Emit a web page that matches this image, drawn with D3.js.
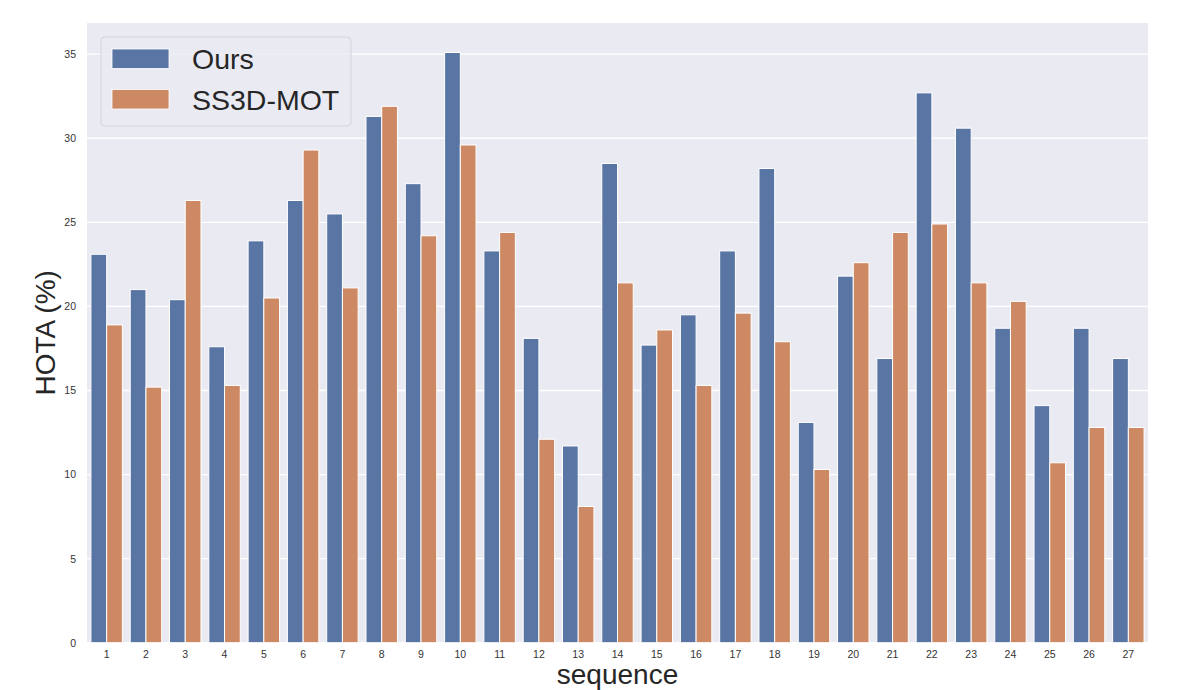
<!DOCTYPE html>
<html>
<head>
<meta charset="utf-8">
<script src="https://cdn.jsdelivr.net/npm/d3@7"></script>
<style>
  html, body { margin: 0; padding: 0; background: #ffffff; }
  svg { display: block; font-family: "Liberation Sans", Arial, sans-serif; }
</style>
</head>
<body>
<svg id="chart" width="1196" height="690"></svg>
<script>
const sequences = ["1","2","3","4","5","6","7","8","9","10","11","12","13","14","15","16","17","18","19","20","21","22","23","24","25","26","27"];
const seriesNames = ["Ours", "SS3D-MOT"];
const oursValues = [23.1, 21.0, 20.4, 17.6, 23.9, 26.3, 25.5, 31.3, 27.3, 35.1, 23.3, 18.1, 11.7, 28.5, 17.7, 19.5, 23.3, 28.2, 13.1, 21.8, 16.9, 32.7, 30.6, 18.7, 14.1, 18.7, 16.9];
const ss3dValues = [18.9, 15.2, 26.3, 15.3, 20.5, 29.3, 21.1, 31.9, 24.2, 29.6, 24.4, 12.1, 8.1, 21.4, 18.6, 15.3, 19.6, 17.9, 10.3, 22.6, 24.4, 24.9, 21.4, 20.3, 10.7, 12.8, 12.8];
const yTicks = [0, 5, 10, 15, 20, 25, 30, 35];
const colors = ["#5975A4", "#CC8963"];

const svg = d3.select("#chart");
const plotLeft = 87, plotRight = 1148, plotTop = 23, plotBottom = 642.7;

const allValues = [oursValues, ss3dValues];
const yMax = d3.max(oursValues.concat(ss3dValues)) * 1.05;

const x = d3.scaleBand().domain(sequences).range([plotLeft, plotRight]).paddingInner(0.2).paddingOuter(0.1);
const xSub = d3.scaleBand().domain(seriesNames).range([0, x.bandwidth()]);
const y = d3.scaleLinear().domain([0, yMax]).range([plotBottom, plotTop]);

// background
svg.append("rect").attr("x", plotLeft).attr("y", plotTop).attr("width", plotRight - plotLeft).attr("height", plotBottom - plotTop).attr("fill", "#EAEAF2");

// gridlines
svg.append("g").selectAll("line").data(yTicks).join("line")
  .attr("x1", plotLeft).attr("x2", plotRight)
  .attr("y1", d => y(d)).attr("y2", d => y(d))
  .attr("stroke", "#ffffff").attr("stroke-width", 1.3);

// bars
const rows = sequences.map((s, i) => ({ seq: s, vals: seriesNames.map((n, k) => ({ name: n, k: k, v: allValues[k][i] })) }));
const groups = svg.append("g").selectAll("g").data(rows).join("g")
  .attr("transform", d => `translate(${x(d.seq)},0)`);
groups.selectAll("rect").data(d => d.vals).join("rect")
  .attr("x", d => xSub(d.name))
  .attr("width", xSub.bandwidth())
  .attr("y", d => y(d.v))
  .attr("height", d => y(0) - y(d.v))
  .attr("fill", d => colors[d.k])
  .attr("stroke", "#ffffff").attr("stroke-width", 1);

// y axis
const yAxis = svg.append("g").attr("transform", `translate(${plotLeft},0)`)
  .call(d3.axisLeft(y).tickValues(yTicks).tickSize(0).tickPadding(11).tickFormat(d3.format("d")));
yAxis.select(".domain").remove();
yAxis.selectAll("text").attr("font-size", "10.5px").attr("fill", "#333333").attr("font-family", "Liberation Sans, Arial, sans-serif");

// x axis
const xAxis = svg.append("g").attr("transform", `translate(0,${plotBottom})`)
  .call(d3.axisBottom(x).tickSize(0).tickPadding(8));
xAxis.select(".domain").remove();
xAxis.selectAll("text").attr("font-size", "10.5px").attr("fill", "#333333").attr("font-family", "Liberation Sans, Arial, sans-serif");

// axis labels
svg.append("text").attr("transform", `translate(55,${(plotTop + plotBottom) / 2}) rotate(-90)`)
  .attr("text-anchor", "middle").attr("font-size", "28px").attr("fill", "#262626").text("HOTA (%)");
svg.append("text").attr("x", (plotLeft + plotRight) / 2).attr("y", 684)
  .attr("text-anchor", "middle").attr("font-size", "28px").attr("fill", "#262626").text("sequence");

// legend
const legend = svg.append("g");
legend.append("rect").attr("x", 101).attr("y", 37).attr("width", 250).attr("height", 89).attr("rx", 4)
  .attr("fill", "#EAEAF2").attr("fill-opacity", 0.8).attr("stroke", "#D4D4DA").attr("stroke-width", 1);
const items = legend.selectAll("g.item").data(seriesNames).join("g").attr("class", "item")
  .attr("transform", (d, i) => `translate(0,${i * 40.5})`);
items.append("rect").attr("x", 112).attr("y", 49).attr("width", 57).attr("height", 19.5)
  .attr("fill", (d, i) => colors[i]).attr("stroke", "#ffffff").attr("stroke-width", 0.8);
items.append("text").attr("x", 192).attr("y", 69).attr("font-size", "28.5px").attr("fill", "#262626").text(d => d);
</script>
</body>
</html>
